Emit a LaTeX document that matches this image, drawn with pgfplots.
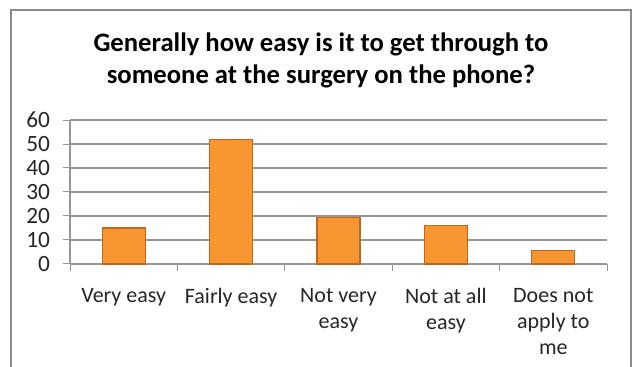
\documentclass[border=0pt]{standalone}
\usepackage{pgfplots}
\pgfplotsset{compat=1.18}
\usepackage{fontspec}
\setmainfont{Carlito}
\definecolor{barfill}{HTML}{F79530}
\definecolor{baredge}{HTML}{C0661E}
\definecolor{gridc}{HTML}{969696}
\definecolor{framec}{HTML}{8A8A8A}
\definecolor{textc}{HTML}{262626}
\begin{document}
\begin{tikzpicture}
\useasboundingbox (0,0) rectangle (476.25pt,275.25pt);
\draw[framec, line width=1.5pt] (8.25pt,-5pt) -- (8.25pt,267.75pt) -- (473.25pt,267.75pt) -- (473.25pt,-5pt);
\node[anchor=base, inner sep=0pt, font=\fontsize{20}{24}\selectfont\bfseries] at (240.7pt,236.25pt) {Generally how easy is it to get through to};
\node[anchor=base, inner sep=0pt, font=\fontsize{20}{24}\selectfont\bfseries] at (240.7pt,212.25pt) {someone at the surgery on the phone?};
\begin{axis}[at={(52.5pt,77.25pt)}, anchor=south west, scale only axis,
  width=402.75pt, height=108pt,
  xmin=-0.5, xmax=4.5, ymin=0, ymax=60, ytick={0,10,...,60},
  xtick={0,...,4},
  xticklabels={Very easy, Fairly easy, {Not very\\easy}, {Not at all\\easy}, {Does not\\apply to\\me}},
  minor xtick={-0.5,0.5,...,4.5},
  major x tick style={draw=none},
  axis x line*=bottom, axis y line*=left,
  axis line style={gridc, line width=0.9pt, -},
  ymajorgrids, grid style={gridc, line width=0.9pt},
  tick align=outside, major tick length=5pt, minor tick length=5pt,
  tick style={gridc, line width=0.75pt},
  xticklabel style={font=\fontsize{16.5}{19.5}\selectfont, text=textc, align=center, anchor=north, yshift=-10pt},
  yticklabel style={font=\fontsize{17.5}{20}\selectfont, text=textc, xshift=-6.5pt},
  /pgf/number format/assume math mode=true,
  enlargelimits=false, clip=false]
\addplot[ybar, bar width=32.25pt, draw=baredge, line width=0.8pt, fill=barfill]
  coordinates {(0,15) (1,51.7) (2,19.5) (3,16) (4,5.7)};
\end{axis}
\end{tikzpicture}
\end{document}
